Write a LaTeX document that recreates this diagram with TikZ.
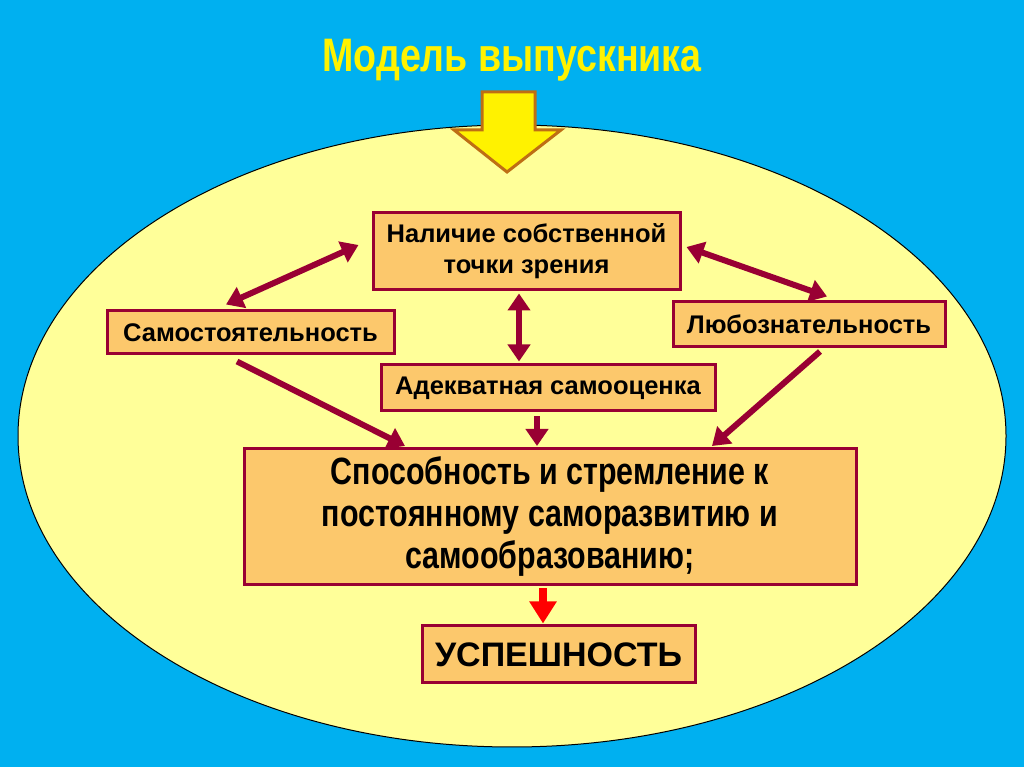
\documentclass[tikz,border=0pt]{standalone}
\usepackage{fontspec}
\setmainfont{Liberation Sans}
\newfontfamily\narrowfont[FakeStretch=0.8]{Liberation Sans}
\usepackage{tikz}
\usetikzlibrary{arrows.meta,positioning,calc}

\definecolor{skyblue}{RGB}{0,176,240}
\definecolor{paleyellow}{RGB}{255,255,153}
\definecolor{boxorange}{RGB}{252,200,108}
\definecolor{wine}{RGB}{153,0,51}
\definecolor{ochre}{RGB}{190,110,20}

\begin{document}
\begin{tikzpicture}[
    x=1pt, y=1pt,
    trait/.style={rectangle, draw=wine, fill=boxorange, line width=3pt, align=center, inner sep=2pt, font=\fontsize{25.5}{31}\selectfont\bfseries},
    goal/.style={trait, font=\narrowfont\fontsize{38}{42}\selectfont\bfseries},
    result/.style={trait, font=\fontsize{34}{40}\selectfont\bfseries},
    link/.style={line width=6pt, draw=wine, -{Triangle[length=17pt,width=22pt]}},
    both/.style={link, {Triangle[length=17pt,width=22pt]}-{Triangle[length=17pt,width=22pt]}},
    redlink/.style={line width=8pt, draw=red, -{Triangle[length=22pt,width=26pt]}}
]

% Background and ellipse
\fill[skyblue] (0,0) rectangle (1024,767);
\useasboundingbox (0,0) rectangle (1024,767);
\draw[fill=paleyellow, line width=1pt] (512,331) ellipse [x radius=494, y radius=311];

% Title and block arrow
\node[text=yellow, font=\narrowfont\fontsize{47}{50}\selectfont\bfseries] (title) at (512,707) {Модель выпускника};
\draw[fill=yellow, draw=ochre, line width=3pt, line join=miter]
    (482,675) -- (535,675) -- (535,637) -- (561,637) -- (507,595) -- (454,637) -- (482,637) -- cycle;

% Entities
\node[trait, minimum width=307, minimum height=77] (view) at (526.5,515.5) {Наличие собственной\\точки зрения};
\node[trait, minimum width=287, minimum height=43] (self) at (250.5,434.5) {Самостоятельность};
\node[trait, minimum width=272, minimum height=45] (curious) at (809,442.5) {Любознательность};
\node[trait, minimum width=334, minimum height=46] (selfest) at (548,379) {Адекватная самооценка};
\node[goal, minimum width=612, minimum height=136] (growth) at (550,250) {Способность и стремление к\\постоянному саморазвитию и\\самообразованию;};
\node[result, minimum width=273, minimum height=57] (success) at (558.5,112.5) {УСПЕШНОСТЬ};

% Connections
\draw[both] ([shift={(-13,6.5)}]view.west) -- ([shift={(-24.5,5)}]self.north);
\draw[both] ([shift={(5,4.5)}]view.east) -- ([shift={(18,4)}]curious.north);
\draw[both] ([shift={(-7.5,-2)}]view.south) -- ([shift={(-29,2)}]selfest.north);
\draw[link] ([shift={(-13.5,-6)}]self.south) -- ([shift={(-145,1.5)}]growth.north);
\draw[link] ([shift={(-11,-4)}]selfest.south) -- ([shift={(-13,1.5)}]growth.north);
\draw[link] ([shift={(11,-3)}]curious.south) -- ([shift={(162,1.5)}]growth.north);
\draw[redlink] ([shift={(-7,-2)}]growth.south) -- ([shift={(-15.5,1)}]success.north);

\end{tikzpicture}
\end{document}
